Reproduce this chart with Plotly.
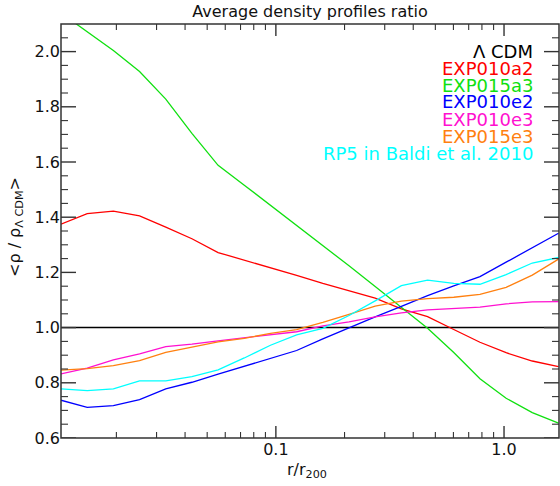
import math
import plotly.graph_objects as go

# radius in units of r200
r = [0.01143, 0.01490, 0.01940, 0.02527, 0.03292, 0.04286, 0.05583, 0.07271,
     0.09471, 0.1233, 0.1606, 0.2092, 0.2724, 0.3549, 0.4623, 0.6021,
     0.7843, 1.0214, 1.330, 1.733]

lcdm = [1.0] * len(r)
exp010a2 = [1.375, 1.413, 1.422, 1.405, 1.364, 1.322, 1.272, 1.245, 1.216, 1.189,
            1.160, 1.134, 1.107, 1.068, 1.040, 0.993, 0.947, 0.909, 0.879, 0.859]
exp015a3 = [2.14, 2.072, 2.004, 1.928, 1.828, 1.704, 1.588, 1.516, 1.443, 1.371,
            1.299, 1.224, 1.149, 1.073, 0.998, 0.910, 0.815, 0.744, 0.692, 0.654]
exp010e2 = [0.737, 0.711, 0.717, 0.739, 0.778, 0.802, 0.831, 0.859, 0.888, 0.917,
            0.959, 1.000, 1.039, 1.077, 1.116, 1.151, 1.185, 1.237, 1.290, 1.342]
exp010e3 = [0.832, 0.853, 0.883, 0.905, 0.931, 0.940, 0.952, 0.963, 0.974, 0.985,
            1.006, 1.021, 1.039, 1.053, 1.064, 1.069, 1.074, 1.086, 1.093, 1.094]
exp015e3 = [0.846, 0.851, 0.862, 0.880, 0.910, 0.928, 0.948, 0.961, 0.979, 0.993,
            1.019, 1.048, 1.078, 1.096, 1.105, 1.110, 1.120, 1.146, 1.190, 1.248]
rp5 = [0.778, 0.772, 0.778, 0.807, 0.807, 0.822, 0.847, 0.890, 0.936, 0.974,
       0.997, 1.044, 1.097, 1.152, 1.172, 1.160, 1.157, 1.192, 1.234, 1.254]

names = ["Λ CDM", "EXP010a2", "EXP015a3", "EXP010e2", "EXP010e3", "EXP015e3",
         "RP5 in Baldi et al. 2010"]
series = [lcdm, exp010a2, exp015a3, exp010e2, exp010e3, exp015e3, rp5]
colors = ["#000000", "#ff0000", "#10e010", "#0000ff", "#ff10d0", "#ff8010", "#00ffff"]

y_ticks = [0.6, 0.8, 1.0, 1.2, 1.4, 1.6, 1.8, 2.0]
y_minor = [0.65, 0.7, 0.75, 0.85, 0.9, 0.95, 1.05, 1.1, 1.15, 1.25, 1.3, 1.35,
           1.45, 1.5, 1.55, 1.65, 1.7, 1.75, 1.85, 1.9, 1.95, 2.05]
x_ticks = [0.1, 1.0]
x_ticktext = ["0.1", "1.0"]
x_minor = [0.02, 0.03, 0.04, 0.05, 0.06, 0.07, 0.08, 0.09,
           0.2, 0.3, 0.4, 0.5, 0.6, 0.7, 0.8, 0.9]

FONT = "DejaVu Sans"
AXC = "#333333"
TXT = "#111111"
XR = [-1.9417, 0.2409]
YR = [0.6, 2.1]

W, H = 560, 486
L, R, T, B = 61, 1, 24, 48
ph = H - T - B
pw = W - L - R
XSPAN = XR[1] - XR[0]
YSPAN = YR[1] - YR[0]

fig = go.Figure()
for name, ys, col in zip(names, series, colors):
    fig.add_trace(go.Scatter(x=r, y=ys, mode="lines", name=name,
                             line=dict(color=col, width=1.5 if col == "#000000" else 1.3),
                             showlegend=False, hoverinfo="skip"))


# inward tick marks on all four sides, drawn as line segments through the axes' scales
def y_tick_segments(vals, length_px):
    xs, ys = [], []
    dl = length_px / pw * XSPAN
    for v in vals:
        xs += [10 ** XR[0], 10 ** (XR[0] + dl), None, 10 ** XR[1], 10 ** (XR[1] - dl), None]
        ys += [v, v, None, v, v, None]
    return xs, ys


def x_tick_segments(vals, length_px):
    xs, ys = [], []
    dl = length_px / ph * YSPAN
    for v in vals:
        if not (XR[0] <= math.log10(v) <= XR[1]):
            continue
        xs += [v, v, None, v, v, None]
        ys += [YR[0], YR[0] + dl, None, YR[1], YR[1] - dl, None]
    return xs, ys


for (xs, ys), wd in ((y_tick_segments(y_ticks, 15), 1.4),
                     (y_tick_segments(y_minor, 7), 1.1),
                     (x_tick_segments(x_ticks, 12), 1.4),
                     (x_tick_segments(x_minor, 6), 1.1)):
    fig.add_trace(go.Scatter(x=xs, y=ys, mode="lines", connectgaps=False,
                             line=dict(color=AXC, width=wd), hoverinfo="skip",
                             showlegend=False))

fig.update_xaxes(type="log", range=XR, tickvals=x_ticks, ticktext=x_ticktext,
                 ticks="", showline=False, showgrid=False, zeroline=False,
                 tickfont=dict(family=FONT, size=16, color=TXT))
fig.update_yaxes(range=YR, tickvals=y_ticks, ticktext=[f"{v:.1f}" for v in y_ticks],
                 ticks="", showline=False, showgrid=False, zeroline=False,
                 tickfont=dict(family=FONT, size=16, color=TXT))

# plot frame
shapes = [dict(type="rect", xref="paper", yref="paper", x0=0, y0=0, x1=1, y1=1,
               line=dict(color=AXC, width=1.5), fillcolor="rgba(0,0,0,0)",
               layer="above")]


def py(p):
    return (H - B - p) / ph


def px(p):
    return (p - L) / pw


annotations = []
legend_y = [51, 67, 84, 101, 118, 135, 152]
for name, col, yp in zip(names, colors, legend_y):
    annotations.append(dict(text=name, x=px(535), y=py(yp + 1),
                            xref="paper", yref="paper", xanchor="right",
                            yanchor="middle", showarrow=False,
                            font=dict(family=FONT, size=18, color=col)))

annotations.append(dict(text="&lt;ρ / ρ<sub>Λ CDM</sub>&gt;", textangle=-90,
                        x=px(16), y=py(227), xref="paper", yref="paper",
                        xanchor="center", yanchor="middle", showarrow=False,
                        font=dict(family=FONT, size=16, color=TXT)))
annotations.append(dict(text="r/r<sub>200</sub>",
                        x=px(307), y=py(471), xref="paper", yref="paper",
                        xanchor="center", yanchor="middle", showarrow=False,
                        font=dict(family=FONT, size=16, color=TXT)))

fig.update_layout(
    width=W, height=H,
    margin=dict(l=L, r=R, t=T, b=B),
    paper_bgcolor="white", plot_bgcolor="white",
    title=dict(text="Average density profiles ratio", x=(310 / W), xanchor="center",
               y=1 - 11 / H, yanchor="middle", yref="container",
               font=dict(family=FONT, size=16, color=TXT)),
    annotations=annotations,
    shapes=shapes,
    showlegend=False,
)

fig.write_html("out.html")
